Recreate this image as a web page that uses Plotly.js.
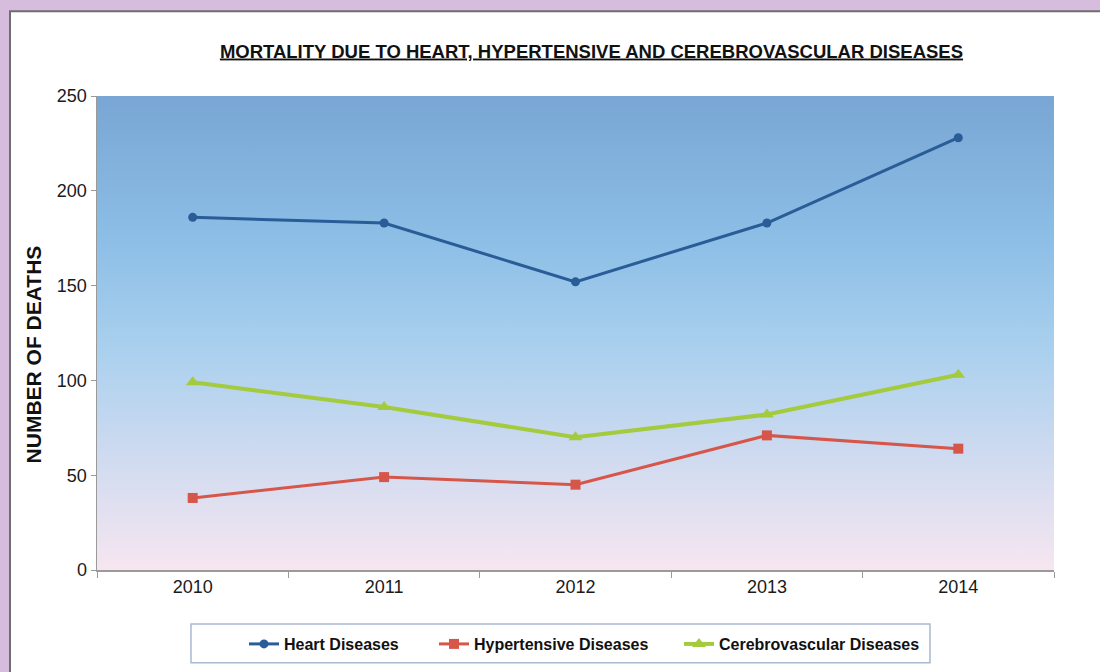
<!DOCTYPE html>
<html>
<head>
<meta charset="utf-8">
<script src="https://cdn.plot.ly/plotly-3.0.1.min.js"></script>
<style>
html,body{margin:0;padding:0;background:#d6bcdd;}
#chart{width:1100px;height:672px;}
</style>
</head>
<body>
<div id="chart"></div>
<script>
const years = ['2010', '2011', '2012', '2013', '2014'];
const heartDiseases = [186, 183, 152, 183, 228];
const hypertensiveDiseases = [38, 49, 45, 71, 64];
const cerebrovascularDiseases = [99, 86, 70, 82, 103];
const yTicks = [0, 50, 100, 150, 200, 250];

const gradSvg = "<svg xmlns='http://www.w3.org/2000/svg' width='100' height='100' preserveAspectRatio='none'>" +
  "<defs><linearGradient id='g' x1='0' y1='0' x2='0' y2='1'>" +
  "<stop offset='0' stop-color='rgb(121,166,212)'/>" +
  "<stop offset='0.3' stop-color='rgb(140,190,230)'/>" +
  "<stop offset='0.55' stop-color='rgb(172,209,238)'/>" +
  "<stop offset='0.75' stop-color='rgb(205,218,240)'/>" +
  "<stop offset='1' stop-color='rgb(247,230,240)'/>" +
  "</linearGradient></defs><rect width='100' height='100' fill='url(#g)'/></svg>";

const traces = [
  {x: years, y: heartDiseases, name: 'Heart Diseases', type: 'scatter', mode: 'lines+markers',
   legendwidth: 145,
   line: {color: 'rgb(42,92,152)', width: 3}, marker: {symbol: 'circle', size: 9, color: 'rgb(42,92,152)'}},
  {x: years, y: hypertensiveDiseases, name: 'Hypertensive Diseases', type: 'scatter', mode: 'lines+markers',
   legendwidth: 200,
   line: {color: 'rgb(214,86,74)', width: 3}, marker: {symbol: 'square', size: 10, color: 'rgb(214,86,74)'}},
  {x: years, y: cerebrovascularDiseases, name: 'Cerebrovascular Diseases', type: 'scatter', mode: 'lines+markers',
   legendwidth: 200,
   line: {color: 'rgb(164,202,62)', width: 4}, marker: {symbol: 'triangle-up', size: 12, color: 'rgb(164,202,62)'}}
];

const layout = {
  width: 1100, height: 672,
  margin: {l: 97, r: 46, t: 96, b: 101},
  paper_bgcolor: '#d6bcdd',
  plot_bgcolor: 'rgba(0,0,0,0)',
  font: {family: 'Liberation Sans, Arial, sans-serif', color: '#1a1a1a', size: 18},
  title: {
    text: '<b><u>MORTALITY DUE TO HEART, HYPERTENSIVE AND CEREBROVASCULAR DISEASES</u></b>',
    font: {size: 18.5, color: '#111'},
    xref: 'container', x: 0.5377, xanchor: 'center',
    yref: 'container', y: 0.924, yanchor: 'middle'
  },
  xaxis: {
    type: 'category', range: [-0.5, 4.5],
    showline: true, linecolor: '#9a9a9a', linewidth: 1.5,
    ticks: 'outside', tickson: 'boundaries', ticklen: 6, tickcolor: '#9a9a9a',
    showgrid: false, zeroline: false, fixedrange: true,
    tickfont: {size: 18}
  },
  yaxis: {
    range: [0, 250], tickvals: yTicks,
    showline: true, linecolor: '#9a9a9a', linewidth: 1.5,
    ticks: 'outside', ticklen: 5, tickcolor: '#9a9a9a',
    showgrid: false, zeroline: false, fixedrange: true,
    tickfont: {size: 18}
  },
  showlegend: true,
  legend: {
    orientation: 'h', x: 0.1536, y: -0.1537, xanchor: 'left', yanchor: 'middle',
    bgcolor: 'rgba(0,0,0,0)', borderwidth: 0,
    font: {size: 16, weight: 'bold', color: '#111'}
  },
  images: [{
    source: 'data:image/svg+xml;base64,' + btoa(gradSvg),
    xref: 'x domain', yref: 'y domain', x: 0, y: 1, sizex: 1, sizey: 1,
    xanchor: 'left', yanchor: 'top', sizing: 'stretch', layer: 'below'
  }],
  shapes: [
    {type: 'rect', xref: 'paper', yref: 'paper', layer: 'below',
     x0: -0.0909, x1: 1.2, y0: -0.4, y1: 1.1789,
     fillcolor: '#ffffff', line: {color: '#6e6e6e', width: 2}},
    {type: 'rect', xref: 'paper', yref: 'paper', layer: 'below',
     x0: 0.0982, x1: 0.8704, y0: -0.1958, y1: -0.1137,
     fillcolor: '#ffffff', line: {color: '#a9b9cf', width: 1.5}}
  ],
  annotations: [{
    text: '<b>NUMBER OF DEATHS</b>', textangle: -90, showarrow: false,
    xref: 'paper', yref: 'paper', x: -0.0669, y: 0.4547,
    xanchor: 'center', yanchor: 'middle',
    font: {size: 21, color: '#111'}
  }]
};

Plotly.newPlot('chart', traces, layout, {displayModeBar: false, staticPlot: true});
</script>
</body>
</html>
